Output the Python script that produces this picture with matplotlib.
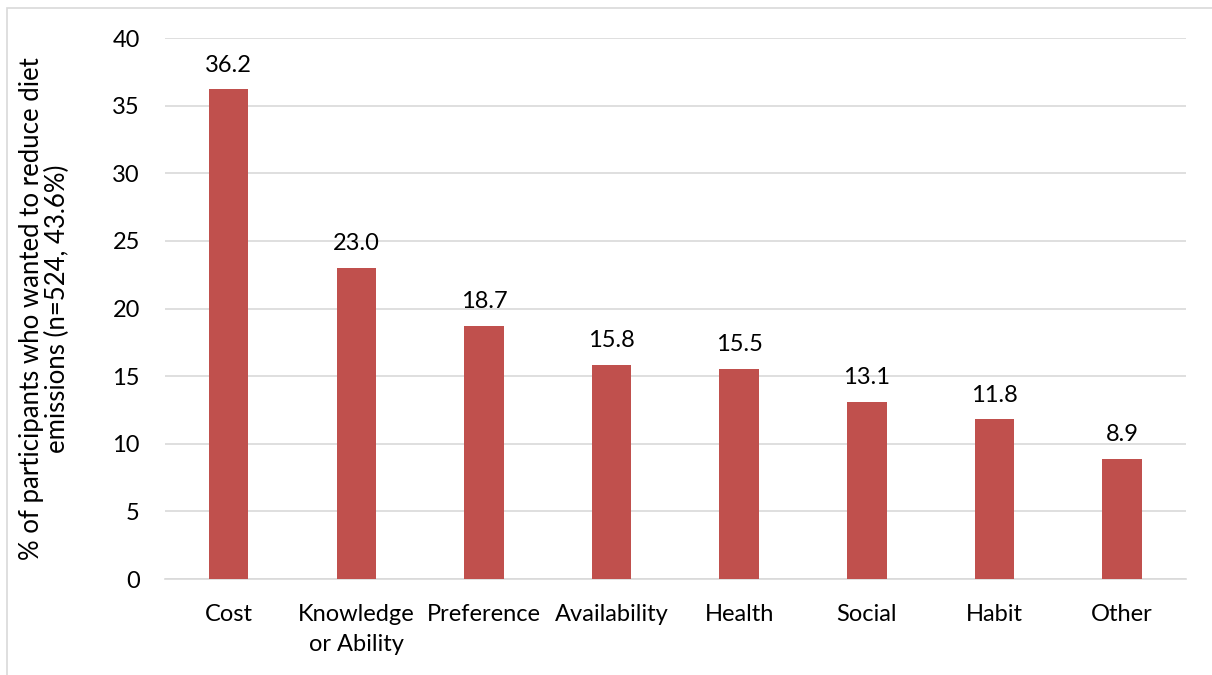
import matplotlib.pyplot as plt
from matplotlib.patches import Rectangle

plt.rcParams['font.family'] = ['Lato', 'DejaVu Sans']

# 数据
categories = ['Cost', 'Knowledge\nor Ability', 'Preference', 'Availability',
              'Health', 'Social', 'Habit', 'Other']
values = [36.2, 23.0, 18.7, 15.8, 15.5, 13.1, 11.8, 8.9]
yticks = [0, 5, 10, 15, 20, 25, 30, 35, 40]

fs = 17

fig = plt.figure(figsize=(12.12, 6.75), dpi=100)
ax = fig.add_axes([0.136, 0.1422, 0.8426, 0.8015])

# 外框
fig.patches.append(Rectangle((7 / 1212, -0.1), 1.2, 1 - 8 / 675 + 0.1,
                             transform=fig.transFigure, fill=False,
                             edgecolor='#D9D9D9', linewidth=1.2))

x = range(len(categories))
bars = ax.bar(x, values, width=0.31, color='#C0504D', zorder=3)

for xi, v in zip(x, values):
    ax.annotate(f'{v:.1f}', (xi, v), xytext=(0, 10), textcoords='offset points',
                ha='center', va='bottom', fontsize=fs)

ax.set_ylim(0, 40)
ax.set_xlim(-0.5, len(categories) - 0.5)
ax.set_yticks(yticks)
ax.set_xticks(list(x))
ax.set_xticklabels(categories, fontsize=fs, linespacing=1.5)
ax.tick_params(axis='y', labelsize=fs, length=0, pad=18)
ax.tick_params(axis='x', length=0, pad=18)
ax.grid(axis='y', color='#D9D9D9', linewidth=1.2, zorder=0)
for s in ['top', 'right', 'left']:
    ax.spines[s].set_visible(False)
ax.spines['bottom'].set_color('#D9D9D9')
ax.spines['bottom'].set_linewidth(1.2)

ax.set_ylabel('% of participants who wanted to reduce diet\nemissions (n=524, 43.6%)',
              fontsize=18.5, linespacing=1.05)
ax.yaxis.set_label_coords(-0.093, 0.5)

fig.savefig('out.png', dpi=100)
